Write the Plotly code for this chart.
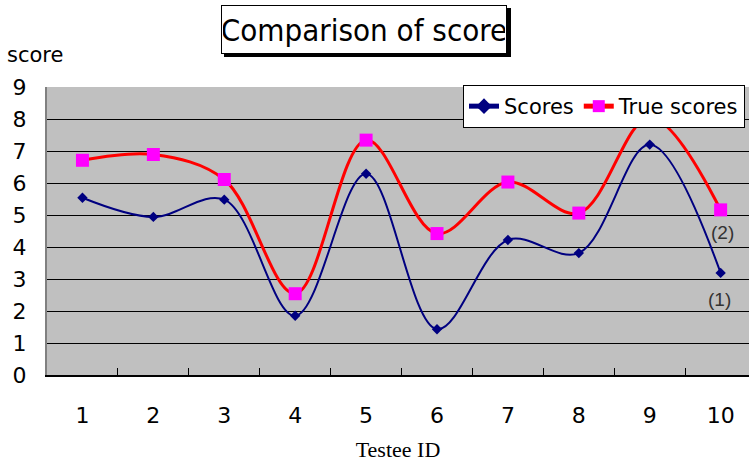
import plotly.graph_objects as go

testee_ids = ["1", "2", "3", "4", "5", "6", "7", "8", "9", "10"]
scores = [5.54, 4.94, 5.48, 1.85, 6.29, 1.43, 4.22, 3.81, 7.20, 3.19]
true_scores = [6.71, 6.89, 6.11, 2.54, 7.34, 4.42, 6.03, 5.06, 8.05, 5.16]
y_ticks = [0, 1, 2, 3, 4, 5, 6, 7, 8, 9]

W, H = 749, 464
L, R, T, B = 47, 0, 87, 89
pw, ph = W - L - R, H - T - B

def px_x(p):
    return (p - L) / pw

def px_y(p):
    return (H - B - p) / ph

FONT = "DejaVu Sans"

fig = go.Figure()
fig.add_trace(go.Scatter(
    x=testee_ids, y=scores, name="Scores", mode="lines+markers",
    line=dict(color="#000080", width=2, shape="spline", smoothing=1.0),
    marker=dict(symbol="diamond", size=8, color="#000080"),
))
fig.add_trace(go.Scatter(
    x=testee_ids, y=true_scores, name="True scores", mode="lines+markers",
    line=dict(color="#FF0000", width=3, shape="spline", smoothing=1.0),
    marker=dict(symbol="square", size=13, color="#FF00FF"),
))

fig.update_layout(
    width=W, height=H,
    margin=dict(l=L, r=R, t=T, b=B, pad=0),
    paper_bgcolor="white", plot_bgcolor="#C0C0C0",
    font=dict(family=FONT, color="black"),
    showlegend=True,
    legend=dict(
        orientation="h", x=px_x(745), xanchor="right", y=px_y(85), yanchor="top",
        bgcolor="white", bordercolor="black", borderwidth=1,
        font=dict(family=FONT, size=21, color="black"),
        itemsizing="constant", tracegroupgap=0, itemwidth=30,
    ),
    xaxis=dict(
        type="category", range=[-0.5, 9.4],
        tickson="boundaries", ticks="inside", ticklen=7, tickcolor="black", tickwidth=1,
        showgrid=False, showline=True, linecolor="black", linewidth=2,
        tickfont=dict(family=FONT, size=22), ticklabelstandoff=20,
        title=dict(text="Testee ID", font=dict(family="Liberation Serif", size=22), standoff=14),
        zeroline=False,
    ),
    yaxis=dict(
        range=[0, 9], tickvals=y_ticks, ticks="inside", ticklen=8, tickcolor="black",
        showgrid=True, gridcolor="black", gridwidth=1,
        showline=True, linecolor="#808080", linewidth=2,
        tickfont=dict(family=FONT, size=22), ticklabelstandoff=14,
        zeroline=False,
    ),
)

# title shadow
fig.add_shape(type="rect", xref="paper", yref="paper",
              x0=px_x(224), x1=px_x(511), y0=px_y(57), y1=px_y(8),
              fillcolor="black", line=dict(width=0), layer="above")
fig.add_annotation(
    text="Comparison of score", xref="paper", yref="paper",
    x=px_x(364), y=px_y(30), xanchor="center", yanchor="middle",
    showarrow=False, font=dict(family="DejaVu Sans Condensed, Liberation Sans Narrow, DejaVu Sans", size=31, color="black"),
    bgcolor="white", bordercolor="black", borderwidth=1, borderpad=1,
    width=282, height=45,
)
fig.add_annotation(
    text="score", xref="paper", yref="paper", x=px_x(5), y=px_y(55),
    xanchor="left", yanchor="middle", showarrow=False,
    font=dict(family=FONT, size=21, color="black"),
)
fig.add_annotation(text="(2)", x=9.03, y=4.44, xref="x", yref="y", showarrow=False,
                   font=dict(family="Liberation Sans", size=19, color="#333333"))
fig.add_annotation(text="(1)", x=8.98, y=2.37, xref="x", yref="y", showarrow=False,
                   font=dict(family="Liberation Sans", size=19, color="#333333"))

fig.write_html("out.html")
